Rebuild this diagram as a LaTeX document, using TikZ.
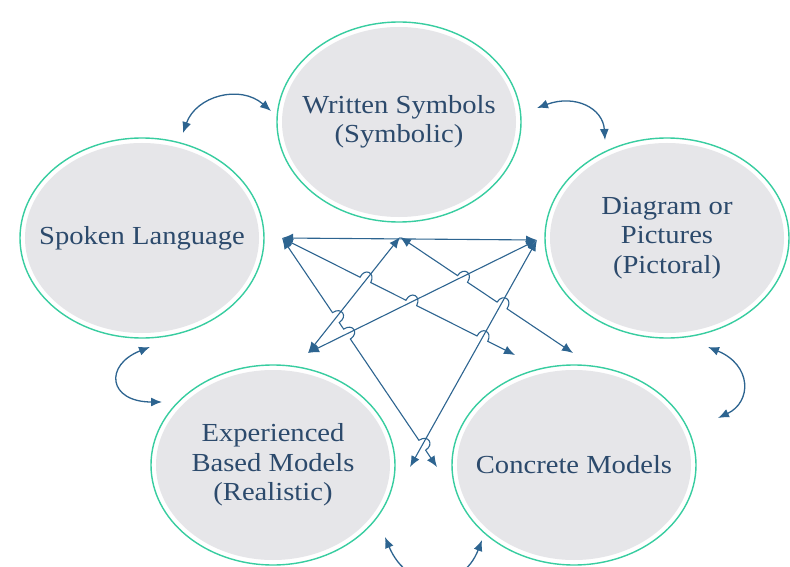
\documentclass[tikz,border=0pt]{standalone}
\usepackage{fontspec}
\setmainfont{Liberation Serif}
\usepackage{graphicx}
\usetikzlibrary{shapes.geometric,arrows.meta,calc}
\definecolor{ringc}{HTML}{38CDA0}
\definecolor{fillc}{HTML}{E6E6E9}
\definecolor{linec}{HTML}{2D6490}
\definecolor{txtc}{HTML}{2C4A6C}
\newcommand\lbl[1]{\scalebox{1.1}[1]{#1}}
\newcommand\hop[3]{-- ($(#1)!#3!(#2)!6pt!(#1)$) .. controls ($(#1)!#3!(#2)!6pt!(#1)!11pt!90:(#2)$) and ($(#1)!#3!(#2)!6pt!(#2)!11pt!-90:(#1)$) .. ($(#1)!#3!(#2)!6pt!(#2)$)}
\begin{document}
\begin{tikzpicture}[x=1pt,y=-1pt,
  bub/.style={ellipse, draw=ringc, line width=1.4pt, fill=white,
    minimum width=244pt, minimum height=200pt, inner sep=0pt,
    path picture={\fill[fillc] (path picture bounding box.center) ellipse [x radius=117pt, y radius=95pt];}},
  txt/.style={align=center, text=txtc, font=\fontsize{26}{29.5}\selectfont, inner sep=0pt},
  conn/.style={draw=linec, line width=1.1pt, {Latex[length=11pt,width=9pt]}-{Latex[length=11pt,width=9pt]}},
  curv/.style={draw=linec, line width=1.3pt, {Latex[length=11pt,width=9pt]}-{Latex[length=11pt,width=9pt]}}
]
\useasboundingbox (0,0) rectangle (790,567);
\clip (0,0) rectangle (790,567);
\fill[white] (0,0) rectangle (790,567);

% bubbles
\node[bub] (W) at (399,122) {};
\node[bub] (S) at (142,238) {};
\node[bub] (D) at (667,238) {};
\node[bub] (E) at (273,465) {};
\node[bub] (C) at (574,465) {};

\node[txt] (Wt) at (W) {\lbl{Written Symbols}\\\lbl{(Symbolic)}};
\node[txt] (St) at (S) {\lbl{Spoken Language}};
\node[txt] (Dt) at (D) {\lbl{Diagram or}\\\lbl{Pictures}\\\lbl{(Pictoral)}};
\node[txt] (Et) at (E) {\lbl{Experienced}\\\lbl{Based Models}\\\lbl{(Realistic)}};
\node[txt] (Ct) at (C) {\lbl{Concrete Models}};

% hub coordinates
\coordinate (L) at (282,238);
\coordinate (M) at (400,237);
\coordinate (R) at (537,240);
\coordinate (e1) at (308,353);
\coordinate (e2) at (515,355);
\coordinate (e3) at (573,353);
\coordinate (e4) at (410,467);
\coordinate (e5) at (437,467);

\draw[conn] (L) -- (R);
\draw[conn] (M) -- (e1);
\draw[conn] (R) -- (e1);
\draw[conn] (R) -- (e4);
\draw[conn] (L) \hop{L}{e2}{0.358} \hop{L}{e2}{0.555} \hop{L}{e2}{0.860} -- (e2);
\draw[conn] (L) \hop{L}{e5}{0.3475} \hop{L}{e5}{0.4196} \hop{L}{e5}{0.905} -- (e5);
\draw[conn] (M) \hop{M}{e3}{0.3614} \hop{M}{e3}{0.5898} -- (e3);

% curved double arrows between bubbles
\coordinate (p1) at (183,133);
\coordinate (p2) at (271,111);
\coordinate (p3) at (537,108);
\coordinate (p4) at (605,140);
\coordinate (p5) at (150,347);
\coordinate (p6) at (162,402);
\coordinate (p7) at (708,347);
\coordinate (p8) at (718,418);
\coordinate (p9) at (385,537);
\coordinate (p10) at (482,540);

\draw[curv] (p1) .. controls (196,96) and (240,84) .. (p2);
\draw[curv] (p3) .. controls (575,94) and (603,108) .. (p4);
\draw[curv] (p5) .. controls (104,365) and (108,402) .. (p6);
\draw[curv] (p7) .. controls (752,365) and (752,402) .. (p8);
\draw[curv] (p9) .. controls (408,592) and (462,592) .. (p10);
\end{tikzpicture}
\end{document}
